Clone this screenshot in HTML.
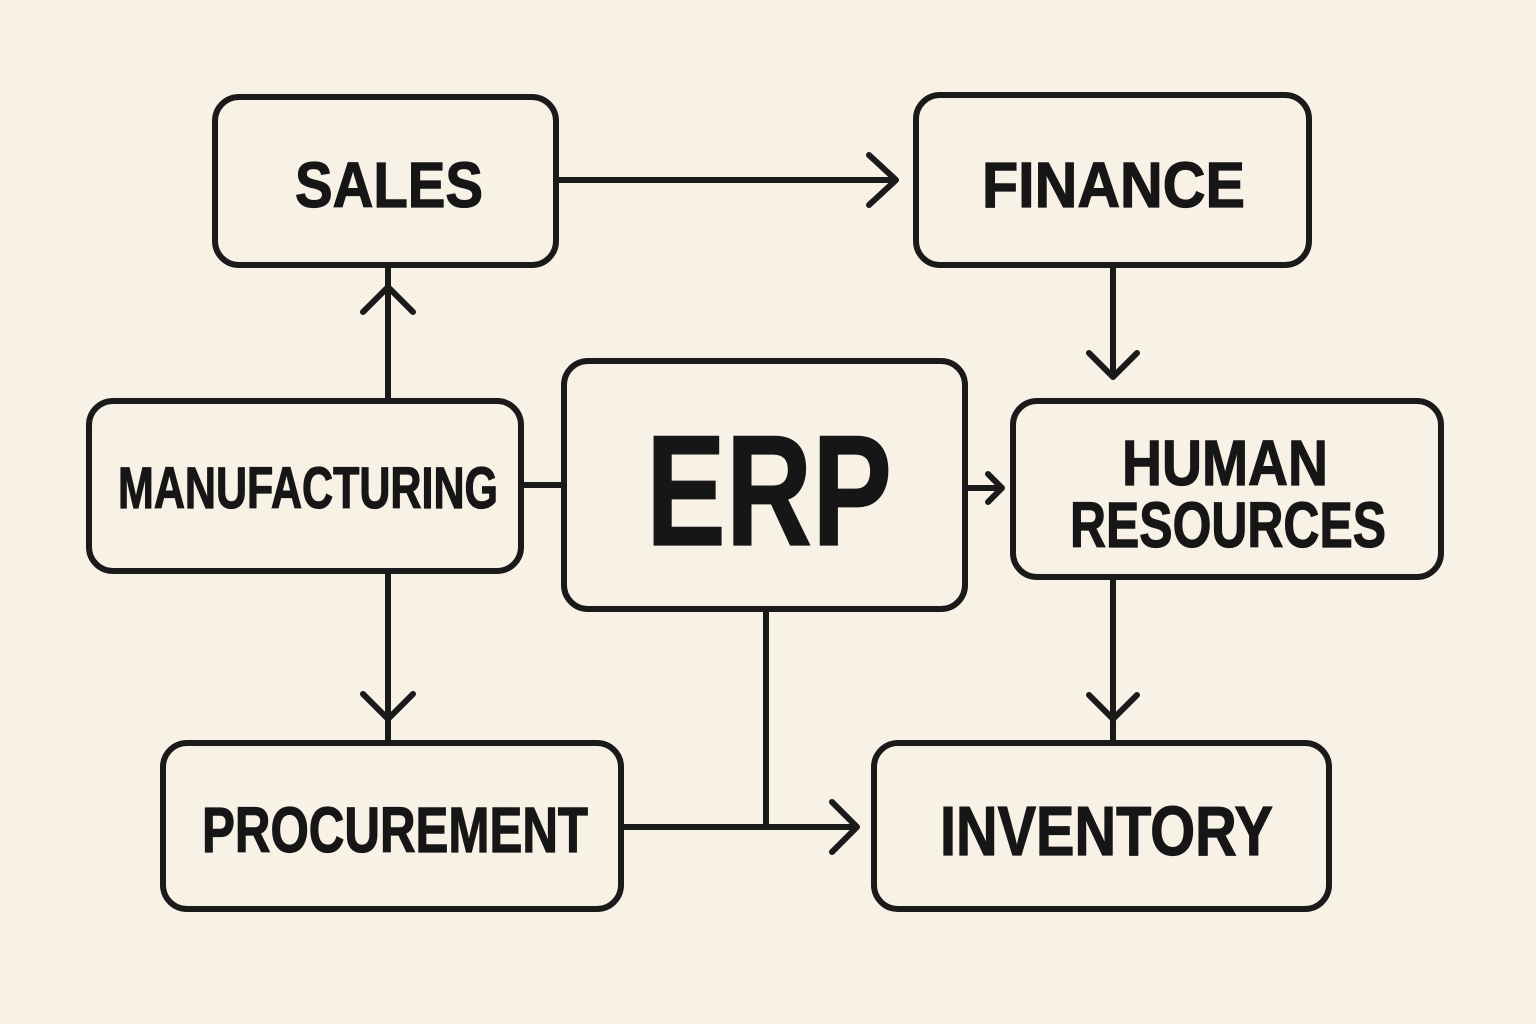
<!DOCTYPE html>
<html><head><meta charset="utf-8"><style>
html,body{margin:0;padding:0;background:#f7f1e6;}
svg{display:block}
text{font-family:"Liberation Sans",sans-serif;font-weight:bold;fill:#161616;stroke:#161616;stroke-width:1.2;}
</style></head><body>
<svg width="1536" height="1024" viewBox="0 0 1536 1024" xmlns="http://www.w3.org/2000/svg">
<rect width="1536" height="1024" fill="#f7f1e6"/>
<g fill="none" stroke="#1a1a1a" stroke-width="6" stroke-linecap="round" stroke-linejoin="round">
<rect x="215" y="97" width="341" height="168" rx="24"/>
<rect x="916" y="95" width="393" height="170" rx="24"/>
<rect x="89" y="401" width="432" height="170" rx="24"/>
<rect x="564" y="361" width="401" height="248" rx="24"/>
<rect x="1013" y="401" width="428" height="176" rx="24"/>
<rect x="163" y="743" width="458" height="166" rx="24"/>
<rect x="874" y="743" width="455" height="166" rx="24"/>
<path d="M558 180 H895 M869 155 L896 180 L869 205"/>
<path d="M388 399 V268 M363 312 L388 287 L413 312"/>
<path d="M523 485 H562"/>
<path d="M967 488 H1002 M988 474 L1002 488 L988 502"/>
<path d="M1113 267 V377 M1089 353 L1113 377 L1137 353"/>
<path d="M388 573 V741 M363 694 L388 719 L413 694"/>
<path d="M1113 579 V741 M1089 695 L1113 719 L1137 695"/>
<path d="M623 827 H857 M832 802 L857 827 L832 852"/>
<path d="M766 611 V827"/>
</g>
<text x="295" y="207" font-size="64" textLength="188" lengthAdjust="spacingAndGlyphs">SALES</text>
<text x="982" y="207" font-size="64" textLength="263" lengthAdjust="spacingAndGlyphs">FINANCE</text>
<text x="118" y="508" font-size="58" textLength="380" lengthAdjust="spacingAndGlyphs">MANUFACTURING</text>
<text x="646" y="545" font-size="158" textLength="246" lengthAdjust="spacingAndGlyphs">ERP</text>
<text x="1122" y="485" font-size="64" textLength="206" lengthAdjust="spacingAndGlyphs">HUMAN</text>
<text x="1070" y="547" font-size="64" textLength="316" lengthAdjust="spacingAndGlyphs">RESOURCES</text>
<text x="202" y="852" font-size="64" textLength="386" lengthAdjust="spacingAndGlyphs">PROCUREMENT</text>
<text x="940" y="855" font-size="70" textLength="333" lengthAdjust="spacingAndGlyphs">INVENTORY</text>
</svg>
</body></html>
